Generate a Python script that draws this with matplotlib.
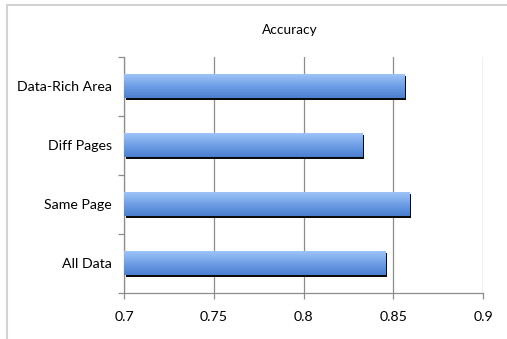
import numpy as np
import matplotlib
matplotlib.use("Agg")
import matplotlib.pyplot as plt
from matplotlib.colors import LinearSegmentedColormap
from matplotlib.transforms import ScaledTranslation

categories = ["All Data", "Same Page", "Diff Pages", "Data-Rich Area"]
accuracy = [0.8456, 0.8589, 0.8330, 0.8565]
x_ticks = [0.7, 0.75, 0.8, 0.85, 0.9]
x_labels = ["0.7", "0.75", "0.8", "0.85", "0.9"]

plt.rcParams['font.family'] = ['Lato', 'DejaVu Sans']

fig = plt.figure(figsize=(5.07, 3.39), dpi=100)
ax = fig.add_axes([0.2446, 0.1357, 0.9527 - 0.2446, 0.8319 - 0.1357])

# light page border along the top and left
fig.add_artist(plt.Line2D([7 / 507, 1], [1 - 5 / 339] * 2, transform=fig.transFigure,
                          color="#d3d3d3", lw=1.5))
fig.add_artist(plt.Line2D([7 / 507] * 2, [0, 1 - 5 / 339], transform=fig.transFigure,
                          color="#d3d3d3", lw=1.5))

bar_h = 0.4
y = np.arange(len(categories))
grad = LinearSegmentedColormap.from_list("bar", ["#4a7fd0", "#6f9fe6", "#9ec4f8"])
gradient = np.linspace(0, 1, 64).reshape(-1, 1)

# drop shadow, offset down and right
shadow = ax.transData + ScaledTranslation(1.5 / 100, -1.5 / 100, fig.dpi_scale_trans)
ax.barh(y, np.array(accuracy) - 0.7, left=0.7, height=bar_h, color="#0a0a0a",
        transform=shadow, zorder=2)

for yi, v in zip(y, accuracy):
    ax.imshow(gradient, extent=(0.7, v, yi - bar_h / 2, yi + bar_h / 2),
              origin="lower", cmap=grad, aspect="auto", zorder=3,
              interpolation="bilinear")

ax.set_xlim(0.7, 0.9)
ax.set_ylim(-0.5, len(categories) - 0.5)
ax.set_xticks(x_ticks)
ax.set_xticklabels(x_labels)
ax.set_yticks(y)
ax.set_yticklabels(categories)
ax.set_yticks(np.arange(-0.5, len(categories)), minor=True)

ax.grid(axis="x", color="#8c8c8c", lw=0.9, zorder=1)
ax.set_axisbelow(True)
for side in ["top", "right"]:
    ax.spines[side].set_visible(False)
for side in ["left", "bottom"]:
    ax.spines[side].set_color("#8c8c8c")
    ax.spines[side].set_linewidth(0.9)

ax.tick_params(axis="y", which="major", length=0, pad=9, labelsize=10.2)
ax.tick_params(axis="y", which="minor", length=4, color="#8c8c8c", width=0.9)
ax.tick_params(axis="x", length=4, color="#8c8c8c", width=0.9, pad=9, labelsize=10.2)

fig.text(290 / 507, 1 - 30 / 339, "Accuracy", ha="center", va="center", fontsize=9.8)

fig.savefig("out.png", dpi=100)
